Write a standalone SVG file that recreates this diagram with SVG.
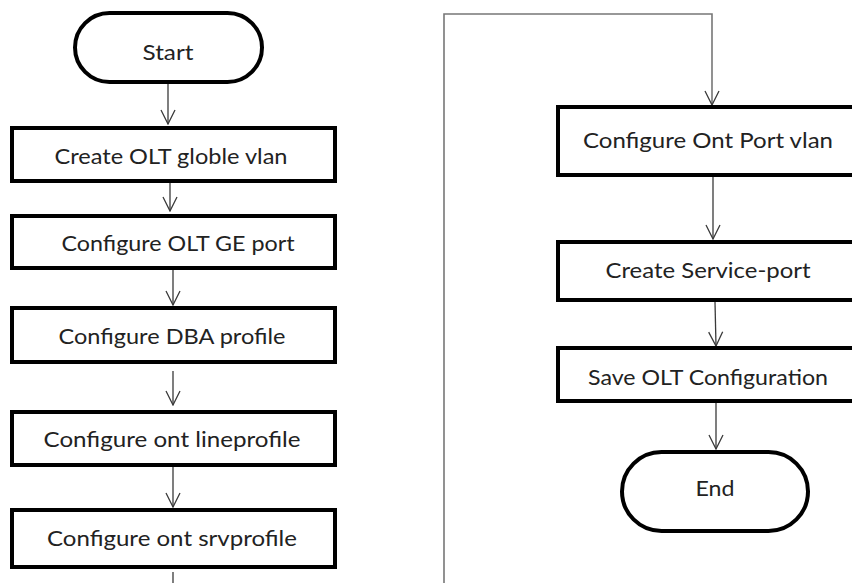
<svg xmlns="http://www.w3.org/2000/svg" width="852" height="583" viewBox="0 0 852 583">
<style>
.box{fill:#fff;stroke:#000;stroke-width:4}
.lbl{font-family:Lato,"Open Sans","Liberation Sans",sans-serif;font-size:22px;fill:#222;text-anchor:middle}
.conn{fill:none;stroke:#3a3a3a;stroke-width:1.3}
.loop{fill:none;stroke:#777;stroke-width:1.6}
</style>
<defs>
<marker id="arr" viewBox="0 0 16 16" refX="15" refY="8" markerWidth="16" markerHeight="16" markerUnits="userSpaceOnUse" orient="auto">
<path d="M1,1 L15,8 L1,15" fill="none" stroke="#3a3a3a" stroke-width="1.3"/>
</marker>
</defs>
<rect width="852" height="583" fill="#fff"/>
<g id="connectors">
<path class="conn" d="M168,84 V124" marker-end="url(#arr)"/>
<path class="conn" d="M170,182 V211" marker-end="url(#arr)"/>
<path class="conn" d="M173,270 V305" marker-end="url(#arr)"/>
<path class="conn" d="M173,371 V405" marker-end="url(#arr)"/>
<path class="conn" d="M173,467 V507" marker-end="url(#arr)"/>
<path class="conn" d="M173,572 V583"/>
<path class="loop" d="M444,583 V14 H712 V105" marker-end="url(#arr)"/>
<path class="conn" d="M713,177 V239" marker-end="url(#arr)"/>
<path class="conn" d="M715,302 L716,346" marker-end="url(#arr)"/>
<path class="conn" d="M716,403 V449" marker-end="url(#arr)"/>
</g>
<g id="start">
<rect class="box" x="75" y="13" width="187" height="69" rx="34.5"/>
<text class="lbl" x="168" y="60" textLength="51" lengthAdjust="spacingAndGlyphs">Start</text>
</g>
<g id="n1">
<rect class="box" x="12" y="128" width="323" height="53"/>
<text class="lbl" x="171" y="164" textLength="233" lengthAdjust="spacingAndGlyphs">Create OLT globle vlan</text>
</g>
<g id="n2">
<rect class="box" x="12" y="216" width="323" height="52"/>
<text class="lbl" x="178" y="251" textLength="233" lengthAdjust="spacingAndGlyphs">Configure OLT GE port</text>
</g>
<g id="n3">
<rect class="box" x="12" y="308" width="323" height="54"/>
<text class="lbl" x="172" y="344" textLength="227" lengthAdjust="spacingAndGlyphs">Configure DBA profile</text>
</g>
<g id="n4">
<rect class="box" x="12" y="412" width="323" height="53"/>
<text class="lbl" x="172" y="447" textLength="257" lengthAdjust="spacingAndGlyphs">Configure ont lineprofile</text>
</g>
<g id="n5">
<rect class="box" x="12" y="510" width="323" height="57"/>
<text class="lbl" x="172" y="546" textLength="250" lengthAdjust="spacingAndGlyphs">Configure ont srvprofile</text>
</g>
<g id="r1">
<rect class="box" x="558" y="107" width="320" height="68"/>
<text class="lbl" x="708" y="148" textLength="250" lengthAdjust="spacingAndGlyphs">Configure Ont Port vlan</text>
</g>
<g id="r2">
<rect class="box" x="558" y="242" width="320" height="58"/>
<text class="lbl" x="708" y="278" textLength="205" lengthAdjust="spacingAndGlyphs">Create Service-port</text>
</g>
<g id="r3">
<rect class="box" x="558" y="348" width="320" height="53"/>
<text class="lbl" x="708" y="385" textLength="240" lengthAdjust="spacingAndGlyphs">Save OLT Configuration</text>
</g>
<g id="end">
<rect class="box" x="622" y="452" width="186" height="79" rx="39.5"/>
<text class="lbl" x="715" y="496" textLength="39" lengthAdjust="spacingAndGlyphs">End</text>
</g>
</svg>
